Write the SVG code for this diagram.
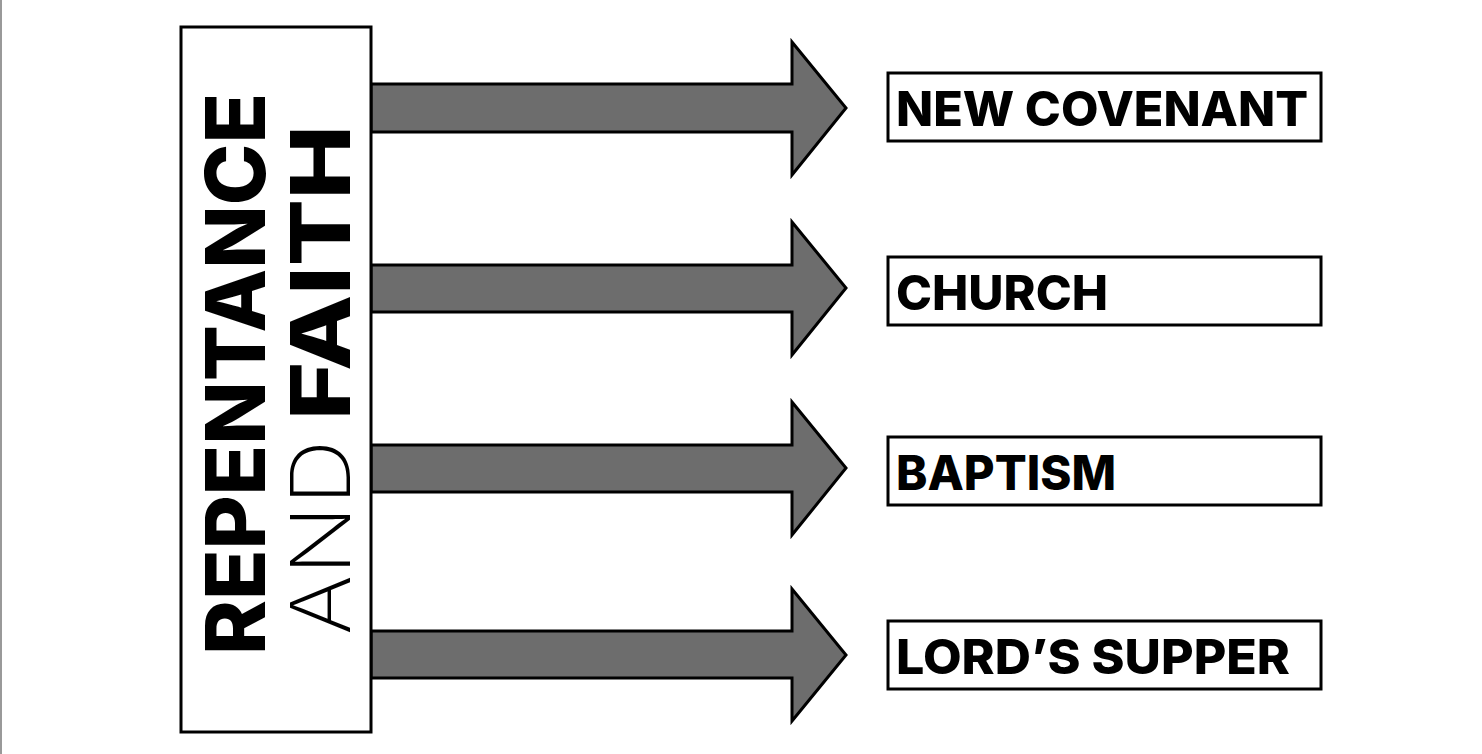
<svg xmlns="http://www.w3.org/2000/svg" width="1482" height="754" viewBox="0 0 1482 754">
<style>
.box{fill:#fff;stroke:#000;stroke-width:3}
.arr{fill:#6d6d6d;stroke:#000;stroke-width:3;stroke-linejoin:miter}
.lbl{font-family:Inter,"Open Sans",sans-serif;font-weight:800;font-size:48px;fill:#000}
.big{font-family:Inter,"Open Sans",sans-serif;font-size:82px;fill:#000}
</style>
<rect width="1482" height="754" fill="#fff"/>
<line x1="1" y1="0" x2="1" y2="754" stroke="#999" stroke-width="2"/>
<g id="connectors">
<polygon class="arr" points="371,84 792,84 792,42 846,108 792,175 792,132 371,132"/>
<polygon class="arr" points="371,265 792,265 792,222 846,288 792,355 792,312 371,312"/>
<polygon class="arr" points="371,445 792,445 792,402 846,468 792,535 792,492 371,492"/>
<polygon class="arr" points="371,631 792,631 792,589 846,655 792,721 792,678 371,678"/>
</g>
<g id="source">
<rect class="box" x="181" y="27" width="190" height="705"/>
<text class="big" font-weight="800" transform="translate(265,655) rotate(-90)" textLength="562" lengthAdjust="spacingAndGlyphs">REPENTANCE</text>
<text class="big" transform="translate(350,635) rotate(-90)"><tspan font-weight="200" textLength="195" lengthAdjust="spacingAndGlyphs">AND</tspan><tspan font-weight="800" x="215" textLength="295" lengthAdjust="spacingAndGlyphs">FAITH</tspan></text>
</g>
<g id="n1"><rect class="box" x="888" y="73" width="433" height="68"/><text class="lbl" x="896" y="126" textLength="412" lengthAdjust="spacingAndGlyphs">NEW COVENANT</text></g>
<g id="n2"><rect class="box" x="888" y="257" width="433" height="68"/><text class="lbl" x="896" y="310" textLength="212" lengthAdjust="spacingAndGlyphs">CHURCH</text></g>
<g id="n3"><rect class="box" x="888" y="437" width="433" height="68"/><text class="lbl" x="896" y="490" textLength="220" lengthAdjust="spacingAndGlyphs">BAPTISM</text></g>
<g id="n4"><rect class="box" x="888" y="621" width="433" height="68"/><text class="lbl" x="896" y="674" textLength="394" lengthAdjust="spacingAndGlyphs">LORD’S SUPPER</text></g>
</svg>
